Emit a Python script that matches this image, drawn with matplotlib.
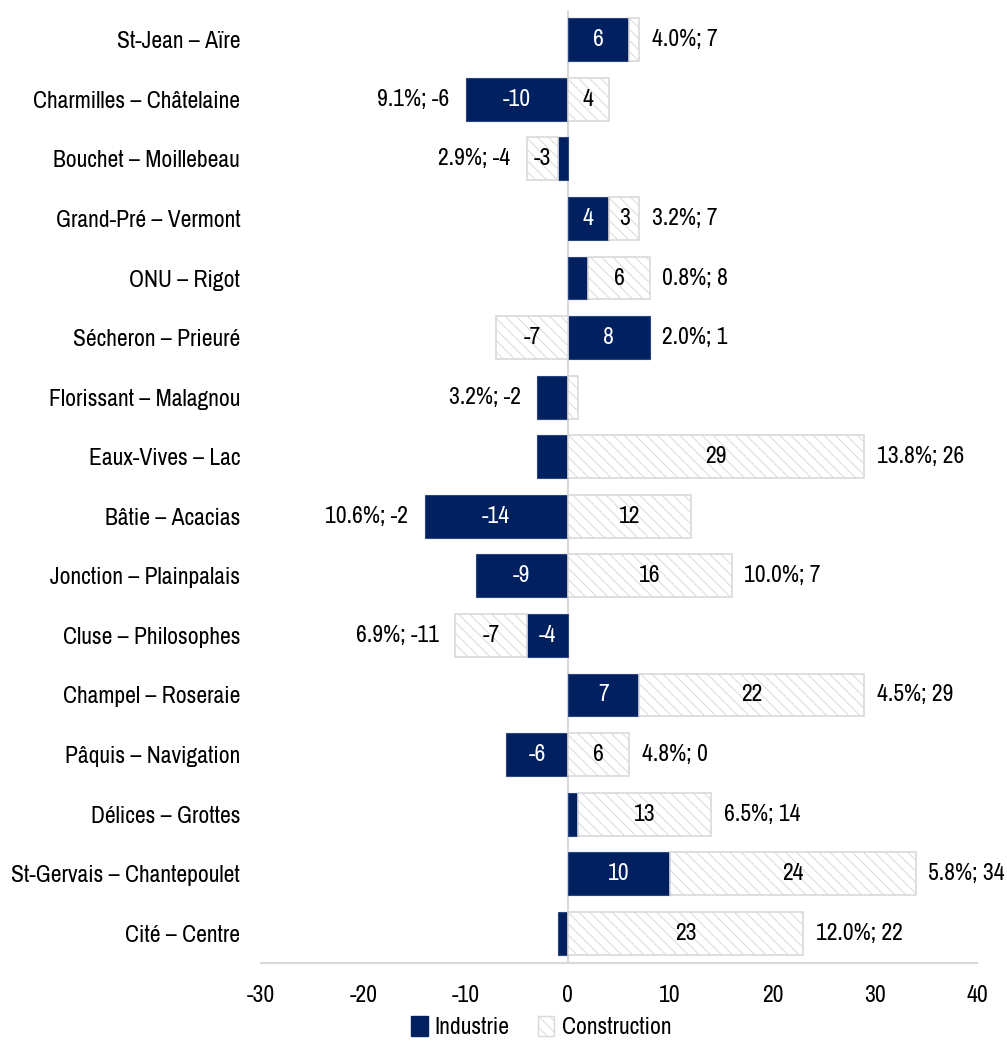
import matplotlib
matplotlib.use("Agg")
import matplotlib.pyplot as plt
from matplotlib.patches import Patch
import numpy as np

categories = ["St-Jean – Aïre", "Charmilles – Châtelaine", "Bouchet – Moillebeau",
              "Grand-Pré – Vermont", "ONU – Rigot", "Sécheron – Prieuré",
              "Florissant – Malagnou", "Eaux-Vives – Lac", "Bâtie – Acacias",
              "Jonction – Plainpalais", "Cluse – Philosophes", "Champel – Roseraie",
              "Pâquis – Navigation", "Délices – Grottes", "St-Gervais – Chantepoulet",
              "Cité – Centre"]
industrie = [6, -10, -1, 4, 2, 8, -3, -3, -14, -9, -4, 7, -6, 1, 10, -1]
construction = [1, 4, -3, 3, 6, -7, 1, 29, 12, 16, -7, 22, 6, 13, 24, 23]
pct = [4.0, 9.1, 2.9, 3.2, 0.8, 2.0, 3.2, 13.8, 10.6, 10.0, 6.9, 4.5, 4.8, 6.5, 5.8, 12.0]
total = [7, -6, -4, 7, 8, 1, -2, 26, -2, 7, -11, 29, 0, 14, 34, 22]
hidden_industrie_labels = ["Florissant – Malagnou", "Eaux-Vives – Lac"]
xticks = [-30, -20, -10, 0, 10, 20, 30, 40]

plt.rcParams['font.family'] = ['Archivo Narrow', 'DejaVu Sans']
plt.rcParams['hatch.color'] = '#d6d6d6'
plt.rcParams['hatch.linewidth'] = 0.7

NAVY = '#002060'
FS = 17

fig = plt.figure(figsize=(10.07, 10.41), dpi=100)
ax = fig.add_axes([261/1007, 1 - 963/1041, 716/1007, (963 - 10)/1041])

n = len(categories)
y = np.arange(n)
ind = np.array(industrie, dtype=float)
con = np.array(construction, dtype=float)

con_left = np.where(con >= 0, np.maximum(ind, 0), np.minimum(ind, 0))
h = 0.72

ax.axvline(0, color='#d9d9d9', lw=1.5, zorder=0.5)
ax.barh(y, ind, height=h, color=NAVY, edgecolor='#2a4780', lw=0.8, zorder=2)
ax.barh(y, con, left=con_left, height=h, color='white', edgecolor='#d9d9d9',
        lw=1.2, hatch='\\\\\\', zorder=2)

for i in range(n):
    if abs(ind[i]) >= 3 and categories[i] not in hidden_industrie_labels:
        ax.text(ind[i] / 2, y[i], f"{industrie[i]:g}", ha='center', va='center',
                color='white', fontsize=FS, zorder=3)
    if abs(con[i]) >= 3:
        ax.text(con_left[i] + con[i] / 2, y[i], f"{construction[i]:g}", ha='center',
                va='center', color='black', fontsize=FS, zorder=3)
    pos_end = max(ind[i], 0) + max(con[i], 0)
    neg_end = min(ind[i], 0) + min(con[i], 0)
    label = f"{pct[i]:.1f}%; {total[i]}"
    if total[i] >= 0:
        ax.annotate(label, (pos_end, y[i]), xytext=(9, 0), textcoords='offset points',
                    ha='left', va='center', fontsize=FS, color='black')
    else:
        ax.annotate(label, (neg_end, y[i]), xytext=(-12, 0), textcoords='offset points',
                    ha='right', va='center', fontsize=FS, color='black')

ax.set_xlim(-30, 40)
ax.set_ylim(n - 0.5, -0.5)
ax.set_xticks(xticks)
ax.set_xticklabels([str(t) for t in xticks], fontsize=FS)
ax.set_yticks(y)
ax.set_yticklabels(categories, fontsize=FS)
ax.tick_params(axis='y', length=0, pad=15)
ax.tick_params(axis='x', length=0, pad=16)
for s in ['top', 'right', 'left']:
    ax.spines[s].set_visible(False)
ax.spines['bottom'].set_color('#d9d9d9')
ax.spines['bottom'].set_linewidth(1.5)

handles = [Patch(facecolor=NAVY, edgecolor=NAVY, label='Industrie'),
           Patch(facecolor='white', edgecolor='#d9d9d9', hatch='\\\\\\', label='Construction')]
fig.legend(handles=handles, loc='center', bbox_to_anchor=(541/1007, 1 - 1027/1041),
           ncol=2, frameon=False, fontsize=FS, handlelength=0.7, handleheight=0.9,
           handletextpad=0.3, columnspacing=1.2)

fig.savefig('out.png', dpi=100)
